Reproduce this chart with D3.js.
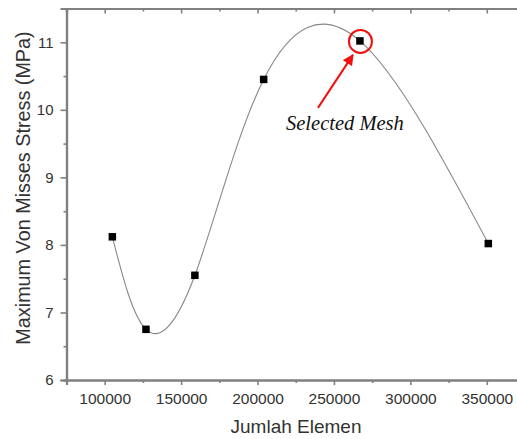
<!DOCTYPE html>
<html>
<head>
<meta charset="utf-8">
<script src="https://cdn.jsdelivr.net/npm/d3@7"></script>
<style>
  html, body { margin: 0; padding: 0; background: #fff; }
  svg { display: block; }
</style>
</head>
<body>
<svg id="chart" width="517" height="439"></svg>
<script>
// Mesh convergence: element count vs. maximum von Mises stress
const elemen = [105000, 127000, 159000, 204000, 267000, 351000];
const stress = [8.12, 6.75, 7.55, 10.45, 11.02, 8.02];
const selectedIndex = 4;

const xMajor = [100000, 150000, 200000, 250000, 300000, 350000];
const xMinor = [125000, 175000, 225000, 275000, 325000];
const yMajor = [6, 7, 8, 9, 10, 11];
const yMinor = [6.5, 7.5, 8.5, 9.5, 10.5];

const svg = d3.select("#chart");
const plotLeft = 66.5, plotRight = 525, plotTop = 8.5, plotBottom = 380;

const x = d3.scaleLinear().domain([75000, 375000]).range([plotLeft, plotRight]);
const y = d3.scaleLinear().domain([6, 11.5]).range([plotBottom, plotTop]);

const axisColor = "#808080";
const labelColor = "#333";

// bottom axis
const gx = svg.append("g").attr("transform", `translate(0,${plotBottom})`);
gx.call(d3.axisBottom(x).tickValues(xMajor).tickSize(5).tickFormat(d3.format("d")));
gx.append("g").call(d3.axisBottom(x).tickValues(xMinor).tickSize(3).tickFormat(""));

// top mirror axis (ticks pointing inward)
const gt = svg.append("g").attr("transform", `translate(0,${plotTop})`);
gt.call(d3.axisBottom(x).tickValues(xMajor).tickSize(5).tickFormat(""));
gt.append("g").call(d3.axisBottom(x).tickValues(xMinor).tickSize(3).tickFormat(""));

// left axis
const gy = svg.append("g").attr("transform", `translate(${plotLeft},0)`);
gy.call(d3.axisLeft(y).tickValues(yMajor).tickSize(6).tickFormat(d3.format("d")));
gy.append("g").call(d3.axisLeft(y).tickValues(yMinor).tickSize(3).tickFormat(""));

svg.selectAll(".domain").attr("stroke", axisColor).attr("stroke-width", 2.2);
svg.selectAll(".tick line").attr("stroke", axisColor).attr("stroke-width", 1.6);
gx.selectAll(".tick text")
  .attr("font-family", "Liberation Sans, Arial, sans-serif")
  .attr("font-size", 15.5).attr("fill", labelColor)
  .attr("y", 24).attr("dy", null);
gy.selectAll(".tick text")
  .attr("font-family", "Liberation Sans, Arial, sans-serif")
  .attr("font-size", 15).attr("fill", labelColor).attr("x", -13);

// axis titles
svg.append("text")
  .attr("x", 296).attr("y", 433)
  .attr("text-anchor", "middle")
  .attr("font-family", "Liberation Sans, Arial, sans-serif")
  .attr("font-size", 19).attr("fill", labelColor)
  .text("Jumlah Elemen");

svg.append("text")
  .attr("transform", "translate(30,188) rotate(-90)")
  .attr("text-anchor", "middle")
  .attr("font-family", "Liberation Sans, Arial, sans-serif")
  .attr("font-size", 19.8).attr("fill", labelColor)
  .text("Maximum Von Misses Stress (MPa)");

// spline through the measurements
const pts = elemen.map((e, i) => [e, stress[i]]);
const line = d3.line().x(d => x(d[0])).y(d => y(d[1])).curve(d3.curveNatural);
svg.append("path")
  .attr("d", line(pts))
  .attr("fill", "none")
  .attr("stroke", "#888")
  .attr("stroke-width", 1.1);

// square markers
const ms = 7.5;
svg.selectAll("rect.pt").data(pts).join("rect")
  .attr("class", "pt")
  .attr("x", d => x(d[0]) - ms / 2)
  .attr("y", d => y(d[1]) - ms / 2)
  .attr("width", ms).attr("height", ms)
  .attr("fill", "#000");

// highlight of the chosen mesh
const sx = x(elemen[selectedIndex]), sy = y(stress[selectedIndex]);
svg.append("circle")
  .attr("cx", sx + 0.5).attr("cy", sy + 0.5).attr("r", 11.5)
  .attr("fill", "none").attr("stroke", "#f01010").attr("stroke-width", 2);

svg.append("defs").append("marker")
  .attr("id", "arrowhead")
  .attr("viewBox", "0 0 10 10")
  .attr("refX", 9).attr("refY", 5)
  .attr("markerWidth", 6).attr("markerHeight", 5.5)
  .attr("markerUnits", "strokeWidth")
  .attr("orient", "auto")
  .append("path").attr("d", "M0,0 L10,5 L0,10 Z").attr("fill", "#f01010");

svg.append("line")
  .attr("x1", sx - 42).attr("y1", sy + 67)
  .attr("x2", sx - 7).attr("y2", sy + 14)
  .attr("stroke", "#f01010").attr("stroke-width", 2)
  .attr("marker-end", "url(#arrowhead)");

svg.append("text")
  .attr("x", 286).attr("y", 130)
  .attr("font-family", "Liberation Serif, Times New Roman, serif")
  .attr("font-style", "italic")
  .attr("font-size", 20.5).attr("fill", "#111")
  .text("Selected Mesh");
</script>
</body>
</html>
